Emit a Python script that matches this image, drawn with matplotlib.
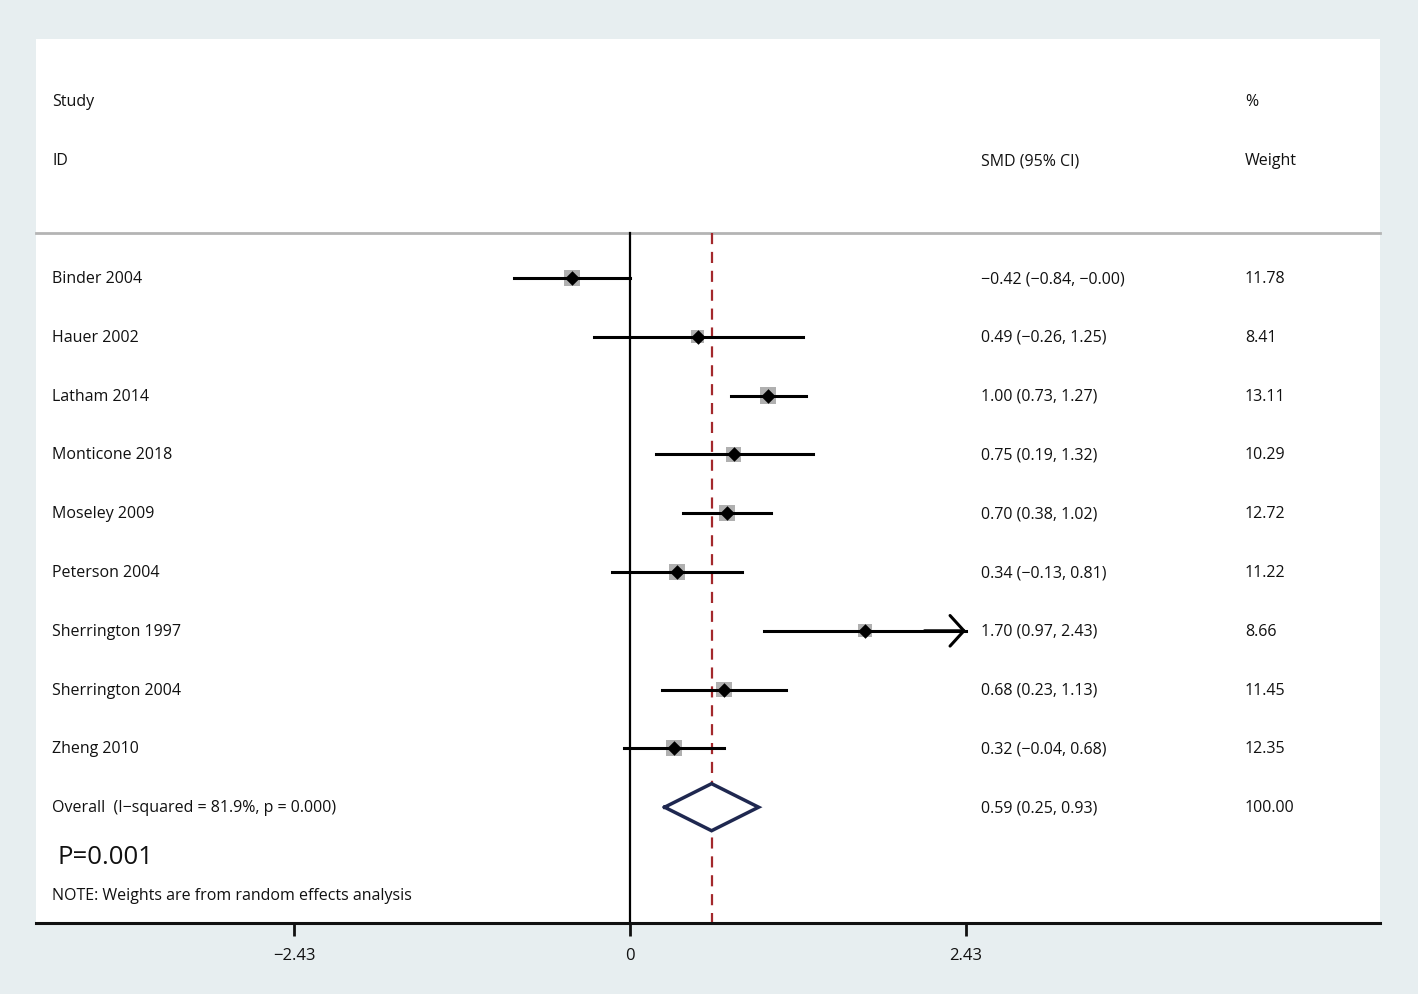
import matplotlib
matplotlib.use("Agg")
import matplotlib.pyplot as plt
import numpy as np

plt.rcParams['font.family'] = ['Open Sans', 'DejaVu Sans']

studies = ["Binder 2004", "Hauer 2002", "Latham 2014", "Monticone 2018", "Moseley 2009",
           "Peterson 2004", "Sherrington 1997", "Sherrington 2004", "Zheng 2010"]
smd = [-0.42, 0.49, 1.00, 0.75, 0.70, 0.34, 1.70, 0.68, 0.32]
ci_lo = [-0.84, -0.26, 0.73, 0.19, 0.38, -0.13, 0.97, 0.23, -0.04]
ci_hi = [-0.0, 1.25, 1.27, 1.32, 1.02, 0.81, 2.43, 1.13, 0.68]
weights = [11.78, 8.41, 13.11, 10.29, 12.72, 11.22, 8.66, 11.45, 12.35]
overall_label = "Overall  (I\u2212squared = 81.9%, p = 0.000)"
overall = [0.59, 0.25, 0.93]
overall_weight = 100.00
xticks = [-2.43, 0, 2.43]
xtick_labels = ["\u22122.43", "0", "2.43"]

def fmt(v):
    return f"{v:.2f}".replace("-", "\u2212")

W, H = 1418, 995
fig = plt.figure(figsize=(W/100, H/100), dpi=100, facecolor='#e7eef0')
ax = fig.add_axes([36/W, 1-924/H, (1380-36)/W, (924-40)/H])
ax.set_facecolor('white')

px_per_unit = 336/2.43
ax.set_xlim((36-630)/px_per_unit, (1380-630)/px_per_unit)
row_h = 58.8
base = 279
ax.set_ylim((924-base)/row_h, (40-base)/row_h)

for s in ['top', 'left', 'right']:
    ax.spines[s].set_visible(False)
ax.spines['bottom'].set_linewidth(2.2)
ax.spines['bottom'].set_color('#111111')
ax.set_yticks([])
ax.set_xticks(xticks)
ax.set_xticklabels(xtick_labels)
ax.tick_params(axis='x', length=9, width=2, color='#111111', labelsize=12, pad=8, labelcolor='#111111')

sep_y = (234-base)/row_h
bottom_y = (924-base)/row_h
ax.plot([0, 0], [sep_y, bottom_y], color='black', lw=1.6, zorder=2)
ax.plot([overall[0], overall[0]], [sep_y, bottom_y], color='#a3282c', lw=1.6,
        dashes=(5, 3.5), zorder=2)
ax.plot([ax.get_xlim()[0], ax.get_xlim()[1]], [sep_y, sep_y], color='#b4b4b4', lw=2, zorder=1,
        clip_on=False)

rows = np.arange(len(studies))
# weight squares
side_px = 4.5*np.sqrt(np.array(weights))
ax.scatter(smd, rows, s=(side_px*0.72)**2, marker='s', color='#b0b0b0', zorder=3, linewidths=0)
for i in rows:
    ax.plot([ci_lo[i], ci_hi[i]], [i, i], color='black', lw=2.2, zorder=4)
    if i == 6:
        ax.annotate('', xy=(ci_hi[i], i), xytext=(ci_hi[i]-0.3, i),
                    arrowprops=dict(arrowstyle='->,head_length=0.5,head_width=0.55',
                                    lw=2.2, color='black', shrinkA=0, shrinkB=0,
                                    mutation_scale=20), zorder=4)
ax.scatter(smd, rows, s=55, marker='D', color='black', zorder=5, linewidths=0)

# overall diamond
oy = len(studies)
dh = 0.4
ax.fill([overall[1], overall[0], overall[2], overall[0]], [oy, oy-dh, oy, oy+dh],
        color='white', zorder=5)
ax.plot([overall[1], overall[0], overall[2], overall[0], overall[1]],
        [oy, oy-dh, oy, oy+dh, oy], color='#1f2850', lw=2.5, zorder=6, solid_joinstyle='miter')

# text columns
tr = ax.get_yaxis_transform()
def xf(px):
    return (px-36)/(1380-36)
fs = 11.5
tc = '#111111'
hdr_study = (100-base+2)/row_h
hdr_id = (159-base+2)/row_h
ax.text(xf(52), hdr_study, "Study", transform=tr, va='center', fontsize=fs, color=tc)
ax.text(xf(52), hdr_id, "ID", transform=tr, va='center', fontsize=fs, color=tc)
ax.text(xf(981), hdr_id, "SMD (95% CI)", transform=tr, va='center', fontsize=fs, color=tc)
ax.text(xf(1245), hdr_study, "%", transform=tr, va='center', fontsize=fs, color=tc)
ax.text(xf(1245), hdr_id, "Weight", transform=tr, va='center', fontsize=fs, color=tc)

for i in rows:
    ax.text(xf(52), i, studies[i], transform=tr, va='center', fontsize=fs, color=tc)
    ax.text(xf(981), i, f"{fmt(smd[i])} ({fmt(ci_lo[i])}, {fmt(ci_hi[i])})", transform=tr,
            va='center', fontsize=fs, color=tc)
    ax.text(xf(1245), i, f"{weights[i]:.2f}", transform=tr, va='center', fontsize=fs, color=tc)

ax.text(xf(52), oy, overall_label, transform=tr, va='center', fontsize=fs, color=tc)
ax.text(xf(981), oy, f"{fmt(overall[0])} ({fmt(overall[1])}, {fmt(overall[2])})", transform=tr,
        va='center', fontsize=fs, color=tc)
ax.text(xf(1245), oy, f"{overall_weight:.2f}", transform=tr, va='center', fontsize=fs, color=tc)

ax.text(xf(58), (856-base+2)/row_h, "P=0.001", transform=tr, va='center', fontsize=18.5, color=tc)
ax.text(xf(52), (894-base+2)/row_h, "NOTE: Weights are from random effects analysis", transform=tr,
        va='center', fontsize=fs, color=tc)

fig.savefig("out.png", dpi=100, facecolor=fig.get_facecolor())
